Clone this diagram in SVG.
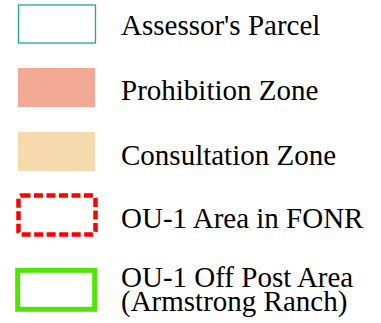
<svg xmlns="http://www.w3.org/2000/svg" width="381" height="323" viewBox="0 0 381 323">
<style>
text{font-family:"Liberation Serif","Times New Roman",serif;font-size:29px;fill:#000}
</style>
<rect width="381" height="323" fill="#fff"/>
<g id="parcel"><rect x="18.5" y="5" width="77" height="38" fill="none" stroke="#1faa86" stroke-width="1.3"/><text x="121" y="34.5">Assessor's Parcel</text></g>
<g id="prohibition"><rect x="18" y="68" width="77" height="39" fill="#f2aa95"/><text x="121" y="100">Prohibition Zone</text></g>
<g id="consultation"><rect x="18" y="132" width="77" height="39" fill="#f5daae"/><text x="121" y="164.5">Consultation Zone</text></g>
<g id="fonr"><rect x="18.5" y="195.5" width="77" height="39" rx="3" fill="none" stroke="#ff0000" stroke-width="4.5" stroke-dasharray="9 3.5"/><text x="121" y="228">OU-1 Area in FONR</text></g>
<g id="offpost"><rect x="17.7" y="270.3" width="77" height="39" fill="none" stroke="#4fe600" stroke-width="5"/><text x="121" y="286.5"><tspan x="121">OU-1 Off Post Area</tspan><tspan x="121" y="311">(Armstrong Ranch)</tspan></text></g>
<g id="connectors"/>
</svg>
